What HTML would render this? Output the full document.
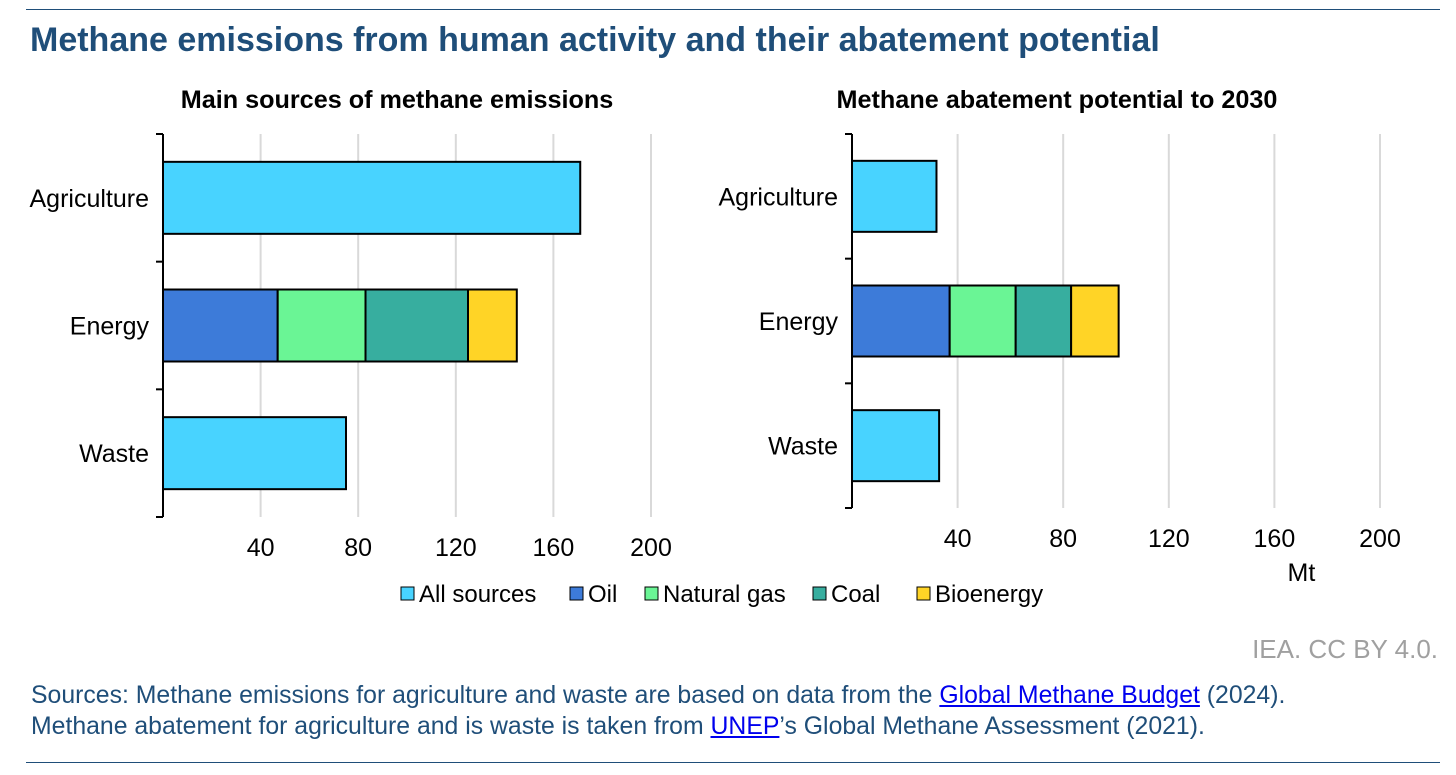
<!DOCTYPE html>
<html><head><meta charset="utf-8">
<style>
body{margin:0;background:#fff;font-family:"Liberation Sans",sans-serif;}
#wrap{position:relative;width:1456px;height:775px;overflow:hidden;}
.hr{position:absolute;left:26px;width:1414px;height:1px;background:#1f4e79;}
.title{position:absolute;left:30px;top:21px;font-size:34px;font-weight:bold;color:#1f4e79;white-space:nowrap;}
.note{position:absolute;left:31px;font-size:24.8px;color:#1f4e79;white-space:nowrap;}
.note a{color:#0000ee;text-decoration:underline;}
</style></head><body>
<div id="wrap">
<div class="hr" style="top:9px"></div>
<div class="title">Methane emissions from human activity and their abatement potential</div>
<svg id="chart" width="1456" height="775" style="position:absolute;left:0;top:0"></svg>
<div style="position:absolute;right:18px;top:634px;font-size:26px;color:#a0a0a0;white-space:nowrap">IEA. CC BY 4.0.</div>
<div class="note" style="top:682px">Sources: Methane emissions for agriculture and waste are based on data from the <a>Global Methane Budget</a> (2024).</div>
<div class="note" style="top:713px">Methane abatement for agriculture and is waste is taken from <a>UNEP</a>’s Global Methane Assessment (2021).</div>
<div class="hr" style="top:762px"></div>
</div>
<script>
const categories=["Agriculture","Energy","Waste"];
const seriesNames=["All sources","Oil","Natural gas","Coal","Bioenergy"];
const seriesColors=["#48d3ff","#3d7bd9","#6af595","#37ae9f","#ffd426"];
const leftAll=[171,0,75];
const leftEnergy=[47,36,42,20];
const rightAll=[32,0,33];
const rightEnergy=[37,25,21,18];
const ticks=[40,80,120,160,200];
const NS="http://www.w3.org/2000/svg";
const svg=document.getElementById('chart');
function mk(t,a,p){const e=document.createElementNS(NS,t);for(const k in a)e.setAttribute(k,a[k]);(p||svg).appendChild(e);return e;}
function panel(name,x0,x200,top,bottom,title,titleX,all,energy,barH,showMt){
  const g=mk('g',{});
  
  
  const sx=v=>x0+(x200-x0)*v/200;
  const band=(bottom-top)/3;
  const t=mk('text',{x:titleX,y:108,'font-size':25.2,'font-weight':'bold','text-anchor':'middle',fill:'#000'},g);t.textContent=title;
  
  ticks.forEach(v=>{
    const l=mk('line',{x1:sx(v),x2:sx(v),y1:top,y2:bottom,stroke:'#d9d9d9','stroke-width':2},g);
    
    const tx=mk('text',{x:sx(v),y:bottom+39,'font-size':25,'text-anchor':'middle',fill:'#000'},g);tx.textContent=v;
    
  });
  categories.forEach((c,i)=>{
    const cy=top+band*(i+0.5);
    const lb=mk('text',{x:x0-14,y:cy+9,'font-size':25,'text-anchor':'end',fill:'#000'},g);lb.textContent=c;
    
    if(all[i]>0){
      const r=mk('rect',{x:sx(0),y:cy-barH/2,width:sx(all[i])-sx(0),height:barH,fill:seriesColors[0],stroke:'#000','stroke-width':2},g);
      
    } else {
      let acc=0;
      energy.forEach((v,j)=>{
        const r=mk('rect',{x:sx(acc),y:cy-barH/2,width:sx(acc+v)-sx(acc),height:barH,fill:seriesColors[j+1],stroke:'#000','stroke-width':2},g);
        
        acc+=v;
      });
    }
  });
  const ax=mk('line',{x1:x0,x2:x0,y1:top,y2:bottom,stroke:'#000','stroke-width':2},g);
  
  for(let i=0;i<=3;i++){const tk=mk('line',{x1:x0-7,x2:x0,y1:top+band*i,y2:top+band*i,stroke:'#000','stroke-width':2},g);
    }
  if(showMt){const m=mk('text',{x:sx(160)+27,y:581,'font-size':25,'text-anchor':'middle',fill:'#000'},g);m.textContent='Mt';
    }
}
panel('left-chart',163,651,134,517,'Main sources of methane emissions',397,leftAll,leftEnergy,72,false);
panel('right-chart',852,1380,134,508,'Methane abatement potential to 2030',1057,rightAll,rightEnergy,71,true);
const lg=mk('g',{});

const lx=[401,570,645,813,917];
seriesNames.forEach((n,i)=>{
  const e=mk('g',{},lg);
  
  mk('rect',{x:lx[i],y:587,width:13,height:13,fill:seriesColors[i],stroke:'#000','stroke-width':1},e);
  const t=mk('text',{x:lx[i]+18,y:602,'font-size':24,fill:'#000'},e);t.textContent=n;
});
</script>
</body></html>
